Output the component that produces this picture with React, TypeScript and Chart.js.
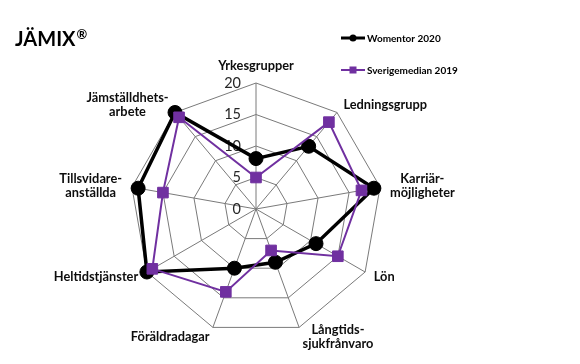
import { useEffect, useRef } from 'react';
import { Chart, registerables } from 'chart.js';

Chart.register(...registerables);

const categories: string[][] = [
  ['Yrkesgrupper'],
  ['Ledningsgrupp'],
  ['Karriär-', 'möjligheter'],
  ['Lön'],
  ['Långtids-', 'sjukfrånvaro'],
  ['Föräldradagar'],
  ['Heltidstjänster'],
  ['Tillsvidare-', 'anställda'],
  ['Jämställdhets-', 'arbete'],
];
const womentor2020 = [8, 13, 19, 11, 9, 10, 20, 19, 20];
const sverigemedian2019 = [5, 18, 17, 15, 7, 14, 19, 15, 19];
const tickValues = [0, 5, 10, 15, 20];
const seriesNames = ['Womentor 2020', 'Sverigemedian 2019'];
const titleText = 'JÄMIX';
const titleMark = '®';

const FONT = 'Lato, "Open Sans", sans-serif';
const BLACK = '#000000';
const PURPLE = '#7030A0';
const GRID = '#7a7a7a';

const overlayPlugin = {
  id: 'overlay',
  beforeDraw(chart: any) {
    const { ctx, width, height } = chart;
    ctx.save();
    ctx.fillStyle = '#ffffff';
    ctx.fillRect(0, 0, width, height);
    ctx.restore();
  },
  beforeDatasetsDraw(chart: any) {
    const r = chart.scales.r;
    const ctx = chart.ctx;
    ctx.save();
    ctx.font = `14.5px ${FONT}`;
    ctx.fillStyle = '#262626';
    ctx.textAlign = 'right';
    ctx.textBaseline = 'middle';
    r.ticks.forEach((t: any) => {
      const d = r.getDistanceFromCenterForValue(t.value);
      ctx.fillText(String(t.value), r.xCenter - 15, r.yCenter - d);
    });
    ctx.restore();
  },
  afterDraw(chart: any) {
    const r = chart.scales.r;
    const ctx = chart.ctx;
    ctx.save();
    // point labels
    ctx.font = `bold 12.8px ${FONT}`;
    ctx.fillStyle = '#0d0d0d';
    ctx.textBaseline = 'middle';
    ctx.textAlign = 'center';
    const lineH = 14;
    (chart.data.labels as string[][]).forEach((lines, i) => {
      const a = r.getIndexAngle(i);
      const s = Math.sin(a);
      const c = Math.cos(a);
      const p = r.getPointPosition(i, r.drawingArea + 10);
      const w = Math.max(...lines.map((l) => ctx.measureText(l).width));
      const h = lines.length * lineH;
      let left: number;
      if (s > 0.2) left = p.x;
      else if (s < -0.2) left = p.x - w;
      else left = p.x - w / 2;
      let top: number;
      if (c > 0.97) top = p.y - h;
      else if (c < -0.97) top = p.y;
      else top = p.y - h / 2;
      lines.forEach((l, k) => {
        ctx.fillText(l, left + w / 2, top + lineH * (k + 0.5));
      });
    });

    // title
    ctx.textAlign = 'left';
    ctx.textBaseline = 'alphabetic';
    ctx.fillStyle = '#000000';
    ctx.font = `bold 20px ${FONT}`;
    ctx.fillText(titleText, 15, 46);
    const tw = ctx.measureText(titleText).width;
    ctx.font = `bold 13px ${FONT}`;
    ctx.fillText(titleMark, 15 + tw + 1, 39);

    // legend
    const x0 = 341;
    const x1 = 365;
    chart.data.datasets.forEach((ds: any, k: number) => {
      const y = 38 + k * 32;
      ctx.strokeStyle = ds.borderColor;
      ctx.lineWidth = k === 0 ? 3 : 2;
      ctx.beginPath();
      ctx.moveTo(x0, y);
      ctx.lineTo(x1, y);
      ctx.stroke();
      ctx.fillStyle = ds.borderColor;
      const cx = (x0 + x1) / 2;
      if (ds.pointStyle === 'rect') {
        ctx.fillRect(cx - 3.5, y - 3.5, 7, 7);
      } else {
        ctx.beginPath();
        ctx.arc(cx, y, 3.5, 0, Math.PI * 2);
        ctx.fill();
      }
      ctx.fillStyle = '#000000';
      ctx.font = `bold 10px ${FONT}`;
      ctx.textBaseline = 'middle';
      ctx.fillText(ds.label, x1 + 2, y + 0.5);
    });
    ctx.restore();
  },
};

export default function App() {
  const ref = useRef<HTMLCanvasElement | null>(null);
  useEffect(() => {
    if (!ref.current) return;
    const chart = new Chart(ref.current, {
      type: 'radar',
      data: {
        labels: categories as any,
        datasets: [
          {
            label: seriesNames[0],
            data: womentor2020,
            borderColor: BLACK,
            backgroundColor: BLACK,
            borderWidth: 3.5,
            pointStyle: 'circle',
            pointRadius: 7,
            pointBorderWidth: 1,
            pointBackgroundColor: BLACK,
            pointBorderColor: BLACK,
            fill: false,
            order: 1,
          },
          {
            label: seriesNames[1],
            data: sverigemedian2019,
            borderColor: PURPLE,
            backgroundColor: PURPLE,
            borderWidth: 2,
            pointStyle: 'rect',
            pointRadius: 7.5,
            pointBorderWidth: 1,
            pointBackgroundColor: PURPLE,
            pointBorderColor: PURPLE,
            fill: false,
            order: 0,
          },
        ],
      },
      options: {
        animation: false,
        responsive: true,
        maintainAspectRatio: false,
        layout: { padding: { left: 130, right: 198, top: 83, bottom: 29 } },
        plugins: {
          legend: { display: false },
          title: { display: false },
          tooltip: { enabled: false },
        },
        elements: { line: { tension: 0 } },
        scales: {
          r: {
            min: 0,
            max: 20,
            afterBuildTicks: (scale: any) => {
              scale.ticks = tickValues.map((v) => ({ value: v }));
            },
            ticks: { display: false, stepSize: 5 },
            pointLabels: { display: false },
            grid: { color: GRID, lineWidth: 1 },
            angleLines: { color: GRID, lineWidth: 1 },
          },
        },
      },
      plugins: [overlayPlugin],
    });
    return () => chart.destroy();
  }, []);
  return (
    <div style={{ position: 'absolute', left: 0, top: 0, width: 580, height: 364, background: '#fff' }}>
      <canvas ref={ref} />
    </div>
  );
}
